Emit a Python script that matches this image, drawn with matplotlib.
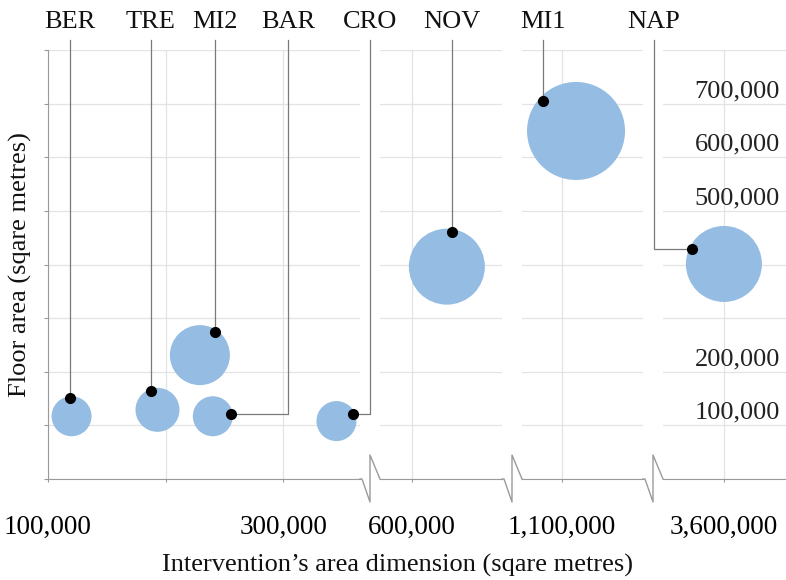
import numpy as np
import matplotlib.pyplot as plt

plt.rcParams['font.family'] = ['Liberation Serif', 'DejaVu Serif']

# ---- data ----
codes = ['BER', 'TRE', 'MI2', 'BAR', 'CRO', 'NOV', 'MI1', 'NAP']
area_dim = [120000, 193000, 229000, 240000, 345000, 630000, 1112000, 3600000]
floor_area = [117000, 129000, 231000, 117000, 108000, 396000, 649000, 401000]
bubble = [400, 484, 900, 400, 400, 1444, 2401, 1444]  # relative bubble size
segment = [0, 0, 0, 0, 0, 1, 2, 3]  # which piece of the broken x axis

seg_ranges = [(100000, 365000), (573000, 677000), (1066000, 1169000), (3548000, 3653000)]
seg_ticks = [[100000, 200000, 300000], [600000], [1100000], [3600000]]
seg_ticklabels = [['100,000', '', '300,000'], ['600,000'], ['1,100,000'], ['3,600,000']]
y_grid = list(range(0, 800001, 100000))
y_labels = [100000, 200000, 500000, 600000, 700000]

# ---- layout (pixels, y up) ----
W, H = 786, 580
seg_px = [(48, 360), (380, 502), (522, 643), (663, 786)]
y0, y1 = 101, 530
anchor_deg = [96, 110, 57, 6, 24, 82, 138, 155]  # where the leader dot sits on the bubble
elbow_x = {'BAR': 288, 'CRO': 370, 'NAP': 654}
label_y = 558
leader_top = 540

bubble_col = '#95bce2'
grid_col = '#e3e3e3'
axis_col = '#9a9a9a'
lead_col = '#7a7a7a'
fs = 19

fig = plt.figure(figsize=(W / 100, H / 100), dpi=100)
axes = []
for i, (l, r) in enumerate(seg_px):
    ax = fig.add_axes([l / W, y0 / H, (r - l) / W, (y1 - y0) / H])
    ax.set_xlim(*seg_ranges[i])
    ax.set_ylim(0, 800000)
    ax.set_yticks(y_grid)
    ax.set_xticks(seg_ticks[i])
    ax.set_xticklabels(seg_ticklabels[i], fontsize=fs + 0.5)
    ax.tick_params(axis='x', length=2, color=axis_col, pad=24)
    if i == 0:
        ax.tick_params(axis='y', length=3, color=axis_col, labelleft=False)
        ax.spines['left'].set_color(axis_col)
    else:
        ax.tick_params(axis='y', left=False, labelleft=False)
        ax.spines['left'].set_visible(False)
    ax.xaxis.grid(True, color=grid_col, lw=0.9)
    ax.yaxis.grid(True, color=grid_col, lw=0.9)
    ax.set_axisbelow(True)
    for s in ['top', 'right']:
        ax.spines[s].set_visible(False)
    ax.spines['bottom'].set_color(axis_col)
    ax.patch.set_alpha(0)
    axes.append(ax)

# y value labels drawn inside the last piece
for v in y_labels:
    axes[3].annotate(f'{v:,}', xy=(0.951, v), xycoords=('axes fraction', 'data'),
                     xytext=(0, 9), textcoords='offset points',
                     ha='right', va='center', fontsize=fs, color='#222222')

# bubbles
for i in range(len(codes)):
    axes[segment[i]].scatter(area_dim[i], floor_area[i], s=bubble[i] * 2.0736,
                             color=bubble_col, edgecolors='none', zorder=3, clip_on=False)

# overlay for leaders, labels and axis breaks
ov = fig.add_axes([0, 0, 1, 1])
ov.set_xlim(0, W)
ov.set_ylim(0, H)
ov.axis('off')
ov.patch.set_alpha(0)

for i, code in enumerate(codes):
    cx, cy = axes[segment[i]].transData.transform((area_dim[i], floor_area[i]))
    r = np.sqrt(bubble[i]) * 0.92
    a = np.radians(anchor_deg[i])
    dx, dy = cx + r * np.cos(a), cy + r * np.sin(a)
    if code in elbow_x:
        lx = elbow_x[code]
        ov.plot([lx, lx, dx], [leader_top, dy, dy], color=lead_col, lw=0.9)
    else:
        lx = dx
        ov.plot([dx, dx], [leader_top, dy], color=lead_col, lw=0.9)
    ov.plot(dx, dy, 'o', color='black', ms=7, zorder=5)
    ov.text(lx, label_y, code, ha='center', va='center', fontsize=fs, color='#111111')

# zigzag breaks on the baseline
for k in range(3):
    R = seg_px[k][1]
    L = seg_px[k + 1][0]
    m = (R + L) / 2
    ov.plot([R, R + 2, m, m, L], [y0, y0, y0 - 23, y0 + 24, y0], color=axis_col, lw=1)

fig.text(398 / W, (H - 565) / H, 'Intervention\u2019s area dimension (sqare metres)',
         ha='center', va='center', fontsize=fs, color='#111111')
fig.text(20 / W, (H - 265) / H, 'Floor area (sqare metres)', rotation=90,
         ha='center', va='center', fontsize=fs, color='#111111')

fig.savefig('out.png', dpi=100)
